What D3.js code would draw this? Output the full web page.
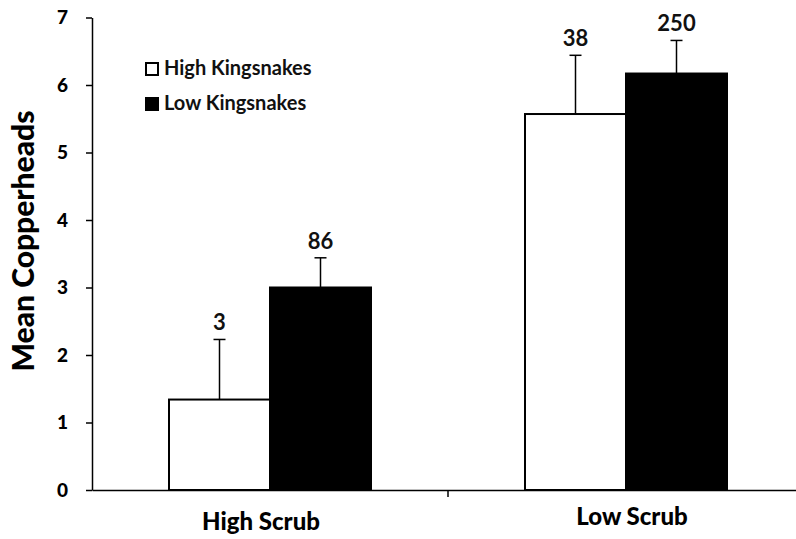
<!DOCTYPE html>
<html><head><meta charset="utf-8">
<script src="https://cdn.jsdelivr.net/npm/d3@7"></script>
<style>body{margin:0;background:#fff}svg{display:block}</style>
</head><body>
<svg id="c" width="796" height="539"></svg>
<script>
const categories = ["High Scrub", "Low Scrub"];
const series = ["High Kingsnakes", "Low Kingsnakes"];
const highKingsnakes = [1.34, 5.57];
const lowKingsnakes = [3.0, 6.17];
const highKingsnakesErr = [0.89, 0.87];
const lowKingsnakesErr = [0.44, 0.49];
const highKingsnakesN = ["3", "38"];
const lowKingsnakesN = ["86", "250"];
const yTicks = [0, 1, 2, 3, 4, 5, 6, 7];

const svg = d3.select("#c");
const font = "Lato, 'Open Sans', sans-serif";
const y = d3.scaleLinear().domain([0, 7]).range([490, 17.5]);
const x0 = d3.scaleBand().domain(categories).range([92, 804]).padding(0);
const x1 = d3.scaleBand().domain(series).range([77, 279]).padding(0);
const fills = {"High Kingsnakes": "#fff", "Low Kingsnakes": "#000"};

const rows = [];
categories.forEach((c, i) => {
  rows.push({c, s: series[0], v: highKingsnakes[i], e: highKingsnakesErr[i], n: highKingsnakesN[i]});
  rows.push({c, s: series[1], v: lowKingsnakes[i], e: lowKingsnakesErr[i], n: lowKingsnakesN[i]});
});

// Y axis
const yAxis = d3.axisLeft(y).tickValues(yTicks).tickFormat(d3.format("d"))
  .tickSize(6).tickSizeOuter(0).tickPadding(18);
const gy = svg.append("g").attr("transform", "translate(92,0)").call(yAxis);
gy.select(".domain").attr("stroke", "#000").attr("stroke-width", 1.5);
gy.selectAll(".tick line").attr("stroke", "#000").attr("stroke-width", 1.5);
gy.selectAll(".tick text").attr("font-family", font).attr("font-weight", 900)
  .attr("font-size", 19).attr("fill", "#000");

// Bars
svg.append("g").selectAll("rect").data(rows).join("rect")
  .attr("x", d => x0(d.c) + x1(d.s))
  .attr("y", d => y(d.v))
  .attr("width", x1.bandwidth())
  .attr("height", d => y(0) - y(d.v))
  .attr("fill", d => fills[d.s])
  .attr("stroke", "#000").attr("stroke-width", 2);

// Error bars + counts
const eg = svg.append("g").attr("stroke", "#000").attr("stroke-width", 1.5);
rows.forEach(d => {
  const cx = x0(d.c) + x1(d.s) + x1.bandwidth() / 2;
  eg.append("line").attr("x1", cx).attr("x2", cx).attr("y1", y(d.v)).attr("y2", y(d.v + d.e));
  eg.append("line").attr("x1", cx - 6).attr("x2", cx + 6).attr("y1", y(d.v + d.e)).attr("y2", y(d.v + d.e));
  svg.append("text").attr("x", cx).attr("y", y(d.v + d.e) - 9)
    .attr("text-anchor", "middle").attr("font-family", font).attr("font-size", 22)
    .attr("font-weight", "bold").attr("fill", "#111").text(d.n);
});

// X axis
const xAxis = d3.axisBottom(x0).tickValues([]).tickSizeOuter(0);
const gx = svg.append("g").attr("transform", "translate(0,490)").call(xAxis);
gx.select(".domain").attr("stroke", "#000").attr("stroke-width", 1.5);
svg.append("line").attr("x1", x0.step() + 92).attr("x2", x0.step() + 92)
  .attr("y1", 490).attr("y2", 497).attr("stroke", "#000").attr("stroke-width", 1.5);

// Category labels
const labelPos = {"High Scrub": {dx: 169, y: 530}, "Low Scrub": {dx: 184, y: 525}};
svg.append("g").selectAll("text").data(categories).join("text")
  .attr("x", d => x0(d) + labelPos[d].dx)
  .attr("y", d => labelPos[d].y)
  .attr("text-anchor", "middle").attr("font-family", font).attr("font-weight", 900)
  .attr("font-size", 24).attr("fill", "#000").text(d => d);

// Y title
svg.append("text").attr("transform", "translate(34,241) rotate(-90)")
  .attr("text-anchor", "middle").attr("font-family", font).attr("font-weight", 900)
  .attr("font-size", 30).attr("fill", "#000").text("Mean Copperheads");

// Legend
const lg = svg.append("g").attr("transform", "translate(145,62)");
series.forEach((s, i) => {
  const g = lg.append("g").attr("transform", `translate(0,${i * 35})`);
  g.append("rect").attr("x", 1).attr("y", 1).attr("width", 12).attr("height", 12)
    .attr("fill", fills[s]).attr("stroke", "#000").attr("stroke-width", 2);
  g.append("text").attr("x", 19).attr("y", 13).attr("font-family", font)
    .attr("font-size", 20).attr("font-weight", "bold").attr("fill", "#111").text(s);
});
</script>
</body></html>
